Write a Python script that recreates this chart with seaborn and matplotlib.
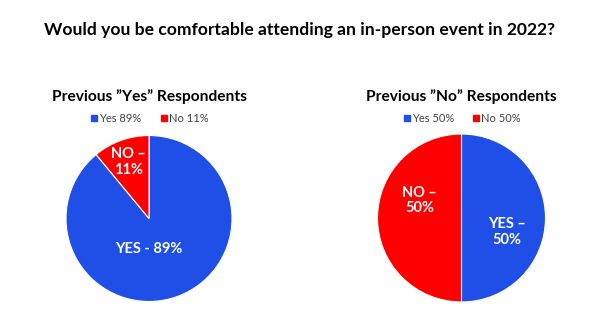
import matplotlib
matplotlib.use("Agg")
import matplotlib.pyplot as plt
from matplotlib.lines import Line2D
import seaborn as sns

sns.set_theme(style="white")
plt.rcParams["font.family"] = ["Lato", "DejaVu Sans"]

title = "Would you be comfortable attending an in-person event in 2022?"
categories = ["Yes", "No"]
yes_group_values = [89, 11]
no_group_values = [50, 50]
panel_titles = ['Previous \u201dYes\u201d Respondents', 'Previous \u201dNo\u201d Respondents']
yes_group_labels = ["YES - 89%", "NO \u2013\n11%"]
no_group_labels = ["YES \u2013\n50%", "NO \u2013\n50%"]

colors = sns.color_palette(["#1F4FE6", "#FF0000"])

fig = plt.figure(figsize=(6.0, 3.28), dpi=100)
fig.text(0.5, 1 - 30 / 328, title, ha="center", va="center", fontsize=12.6,
         fontweight="bold", color="black")


def draw_pie(rect, values, labels, label_pos, heading, head_y, legend_y, legend_x):
    ax = fig.add_axes(rect)
    ax.pie(values, colors=colors, startangle=90, counterclock=False,
           wedgeprops=dict(edgecolor="white", linewidth=0.8))
    ax.set_xlim(-1.0, 1.0)
    ax.set_ylim(-1.0, 1.0)
    ax.set_aspect("equal")
    for text, (x, y) in zip(labels, label_pos):
        ax.text(x, y, text, ha="center", va="center", color="white",
                fontsize=10.5, fontweight="bold", linespacing=1.15)
    fig.text(legend_x, head_y, heading, ha="center", va="center",
             fontsize=11.2, fontweight="bold", color="black")
    handles = [Line2D([], [], marker="s", linestyle="", markersize=5,
                      markerfacecolor=c, markeredgecolor=c) for c in colors]
    names = [f"{c} {v}%" for c, v in zip(categories, values)]
    fig.legend(handles, names, loc="center", bbox_to_anchor=(legend_x, legend_y),
               ncol=2, frameon=False, fontsize=8, handletextpad=0.05,
               columnspacing=1.6, handlelength=0.8, labelcolor="#404040")
    return ax


draw_pie([66 / 600, (328 - 302) / 328, 166 / 600, 167 / 328],
         yes_group_values, yes_group_labels,
         [(0.0, -0.37), (-0.25, 0.68)],
         panel_titles[0], 1 - 97 / 328, 1 - 118 / 328, 149 / 600)

draw_pie([377 / 600, (328 - 302) / 328, 169 / 600, 168 / 328],
         no_group_values, no_group_labels,
         [(0.54, -0.17), (-0.5, 0.21)],
         panel_titles[1], 1 - 97 / 328, 1 - 118 / 328, 461.5 / 600)

fig.savefig("out.png", dpi=100, facecolor="white")
